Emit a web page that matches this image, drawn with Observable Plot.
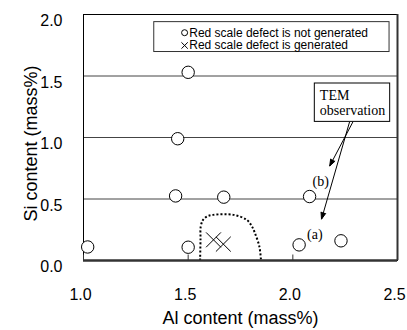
<!DOCTYPE html>
<html>
<head>
<meta charset="utf-8">
<script src="https://cdn.jsdelivr.net/npm/d3@7"></script>
<script src="https://cdn.jsdelivr.net/npm/@observablehq/plot@0.6"></script>
<style>
  html, body { margin: 0; padding: 0; background: #fff; }
  #chart { width: 407px; height: 330px; overflow: hidden; }
</style>
</head>
<body>
<div id="chart"></div>
<script>
// ---- Data ----
const alNoDefect = [1.02, 1.50, 1.45, 1.44, 1.67, 2.08, 1.50, 2.03, 2.23];
const siNoDefect = [0.11, 1.53, 0.99, 0.525, 0.515, 0.52, 0.108, 0.127, 0.16];

const alDefect = [1.621, 1.668];
const siDefect = [0.168, 0.133];

// dotted boundary of the red-scale-defect region
const boundaryAl = [1.557, 1.559, 1.560, 1.571, 1.589, 1.619, 1.716, 1.780, 1.805, 1.819, 1.840, 1.848];
const boundarySi = [0.0, 0.17, 0.276, 0.33, 0.357, 0.371, 0.371, 0.33, 0.276, 0.222, 0.114, 0.0];

const xTicks = [1.0, 1.5, 2.0, 2.5];
const yTicks = [0.0, 0.5, 1.0, 1.5, 2.0];
const gridSi = [0.5, 1.0, 1.5];

const xTitle = "Al content (mass%)";
const yTitle = "Si content (mass%)";

// legend (inside the plot)
const legendLabels = ["Red scale defect is not generated", "Red scale defect is generated"];
const legendSymbols = ["circle", "times"];
const legendBoxAl = [1.338, 2.462];
const legendBoxSi = [1.695, 1.938];
const legendSymbolAl = 1.483;
const legendTextAl = 1.505;
const legendRowSi = [1.852, 1.748];

// TEM observation annotation
const temLines = ["TEM", "observation"];
const temBoxAl = [2.105, 2.465];
const temBoxSi = [1.127, 1.439];
const temTextAl = 2.129;
const temTextSi = [1.338, 1.222];
const arrowStartAl = [2.287, 2.271];
const arrowStartSi = [1.127, 1.127];
const arrowEndAl = [2.176, 2.137];
const arrowEndSi = [0.768, 0.336];

const pointLabels = ["(b)", "(a)"];
const pointLabelAl = [2.133, 2.105];
const pointLabelSi = [0.645, 0.208];

// ---- Tables built from the arrays ----
const noDefect = alNoDefect.map((al, i) => ({al, si: siNoDefect[i]}));
const defect = alDefect.map((al, i) => ({al, si: siDefect[i]}));
const boundary = boundaryAl.map((al, i) => ({al, si: boundarySi[i]}));
const legendRows = legendLabels.map((label, i) => ({label, symbol: legendSymbols[i], si: legendRowSi[i]}));
const temText = temLines.map((t, i) => ({t, si: temTextSi[i]}));
const arrows = arrowStartAl.map((a, i) => ({x1: a, y1: arrowStartSi[i], x2: arrowEndAl[i], y2: arrowEndSi[i]}));
const pLabels = pointLabels.map((t, i) => ({t, al: pointLabelAl[i], si: pointLabelSi[i]}));

const sans = "'Liberation Sans', Arial, Helvetica, sans-serif";
const serif = "'Liberation Serif', 'Times New Roman', serif";
const tickLine = {draw(ctx) { ctx.moveTo(0, 0); ctx.lineTo(0, -6); }};

const chart = Plot.plot({
  width: 407,
  height: 330,
  marginLeft: 83,
  marginRight: 10,
  marginTop: 14,
  marginBottom: 70,
  style: {fontFamily: sans, fontSize: "16px", background: "#fff", color: "#000"},
  x: {domain: [1, 2.5]},
  y: {domain: [0, 2]},
  marks: [
    Plot.ruleY(gridSi, {stroke: "#444", strokeWidth: 1}),
    Plot.line(boundary, {x: "al", y: "si", curve: "catmull-rom", stroke: "#000", strokeWidth: 2, strokeDasharray: "2,2", strokeLinecap: "butt"}),
    Plot.frame({stroke: "#000", strokeWidth: 1}),
    Plot.ruleX([2.5], {stroke: "#333", strokeWidth: 2}),
    Plot.ruleY([0], {stroke: "#333", strokeWidth: 2.5}),
    Plot.dot(xTicks, {x: d => d, y: () => 0, symbol: tickLine, stroke: "#333", strokeWidth: 1, r: 3}),
    Plot.axisX({ticks: xTicks, tickSize: 0, tickPadding: 28, dx: -3, tickFormat: d3.format(".1f"), fontSize: 16, label: null}),
    Plot.axisY({ticks: yTicks, tickSize: 0, tickPadding: 21, dy: 6.5, tickFormat: d3.format(".1f"), fontSize: 16, label: null}),
    Plot.text([xTitle], {frameAnchor: "bottom", dy: 63, fontSize: 18, fill: "#000"}),
    Plot.text([yTitle], {frameAnchor: "left", textAnchor: "middle", dx: -52, dy: 6, rotate: -90, fontSize: 18, fill: "#000"}),
    // legend
    Plot.rect([0], {x1: () => legendBoxAl[0], x2: () => legendBoxAl[1], y1: () => legendBoxSi[0], y2: () => legendBoxSi[1], fill: "#fff", stroke: "#333", strokeWidth: 1}),
    Plot.dot(legendRows, {x: () => legendSymbolAl, y: "si", symbol: "symbol", r: 3, stroke: "#000", strokeWidth: 1, fill: "none"}),
    Plot.text(legendRows, {x: () => legendTextAl, y: "si", text: "label", textAnchor: "start", fontSize: 12, fill: "#000"}),
    // TEM box and arrows
    Plot.rect([0], {x1: () => temBoxAl[0], x2: () => temBoxAl[1], y1: () => temBoxSi[0], y2: () => temBoxSi[1], fill: "#fff", stroke: "#000", strokeWidth: 1}),
    Plot.text(temText, {x: () => temTextAl, y: "si", text: "t", textAnchor: "start", fontFamily: serif, fontSize: 14, fill: "#000"}),
    Plot.arrow(arrows, {x1: "x1", y1: "y1", x2: "x2", y2: "y2", stroke: "#000", fill: "#000", strokeWidth: 1, headAngle: 40, headLength: 11, strokeLinecap: "butt"}),
    // data points
    Plot.dot(noDefect, {x: "al", y: "si", r: 6.2, fill: "#fff", stroke: "#000", strokeWidth: 1}),
    Plot.dot(defect, {x: "al", y: "si", symbol: "times", r: 6.8, stroke: "#000", strokeWidth: 1}),
    Plot.text(pLabels, {x: "al", y: "si", text: "t", fontFamily: serif, fontSize: 14, fill: "#000"})
  ]
});
document.getElementById("chart").appendChild(chart);
</script>
</body>
</html>
